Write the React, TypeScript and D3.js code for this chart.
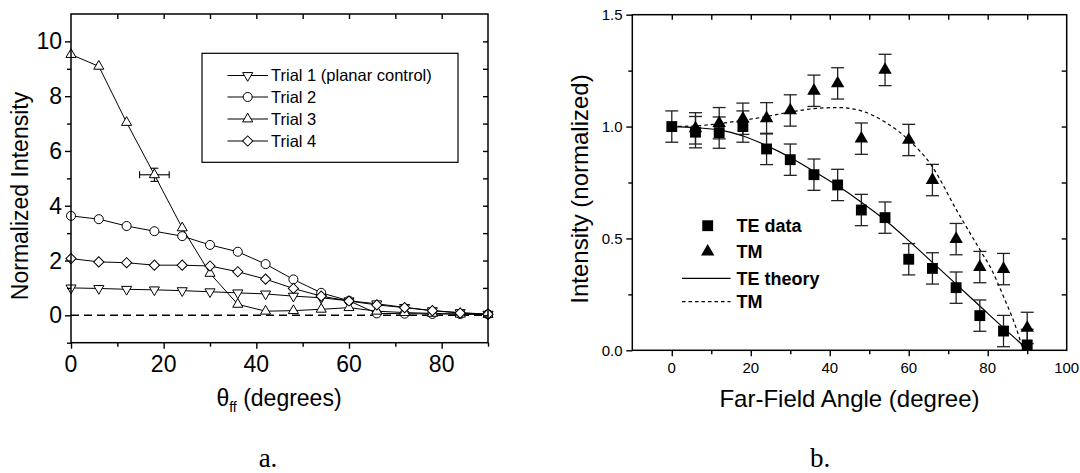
import React, { useEffect, useRef } from 'react';
import * as d3 from 'd3';

// ---- panel a: normalized intensity per trial ----
const angles = [0, 6, 12, 18, 24, 30, 36, 42, 48, 54, 60, 66, 72, 78, 84, 90];
const trial1 = [1.0, 0.98, 0.95, 0.93, 0.9, 0.86, 0.82, 0.78, 0.7, 0.64, 0.53, 0.42, 0.29, 0.17, 0.1, 0.04];
const trial2 = [3.63, 3.51, 3.26, 3.07, 2.89, 2.57, 2.32, 1.87, 1.31, 0.82, 0.53, 0.07, 0.06, 0.05, 0.05, 0.04];
const trial3 = [9.52, 9.09, 7.04, 5.13, 3.19, 1.53, 0.4, 0.15, 0.17, 0.22, 0.28, 0.15, 0.1, 0.07, 0.04, 0.03];
const trial4 = [2.07, 1.95, 1.92, 1.83, 1.83, 1.8, 1.59, 1.32, 0.98, 0.7, 0.52, 0.38, 0.28, 0.17, 0.08, 0.04];
const trialNames = ['Trial 1 (planar control)', 'Trial 2', 'Trial 3', 'Trial 4'];
// single error bar on trial 3
const errAngle = 18;
const errValue = 5.13;
const errAngleSpread = 3.2;
const errValueSpread = 0.24;

// ---- panel b: TE / TM data and theory ----
const teAngles = angles;
const teData = [1.0, 0.975, 0.973, 1.0, 0.9, 0.852, 0.785, 0.739, 0.627, 0.593, 0.407, 0.366, 0.28, 0.155, 0.086, 0.024];
const tmAngles = angles.slice(1);
const tmData = [0.992, 1.015, 1.035, 1.037, 1.072, 1.16, 1.193, 0.946, 1.253, 0.94, 0.761, 0.497, 0.372, 0.363, 0.1];
const dataErr = 0.07;
const teTheoryAngles = [0, 6, 12, 18, 24, 30, 36, 42, 48, 54, 60, 66, 72, 78, 84, 90];
const teTheory = [1.0, 0.995, 0.985, 0.958, 0.915, 0.862, 0.8, 0.735, 0.662, 0.582, 0.49, 0.393, 0.296, 0.198, 0.1, 0.005];
const tmTheoryAngles = [0, 6, 12, 18, 24, 30, 36, 42, 48, 54, 60, 66, 72, 78, 81, 84, 87, 89];
const tmTheory = [1.0, 1.003, 1.013, 1.028, 1.045, 1.065, 1.08, 1.085, 1.07, 1.02, 0.94, 0.82, 0.63, 0.45, 0.36, 0.24, 0.11, 0.0];
const legendB = ['TE data', 'TM', 'TE theory', 'TM'];

const FONT = '"Liberation Sans", Arial, Helvetica, sans-serif';
const SERIF = '"Liberation Serif", "Times New Roman", serif';

// scales
const xA = d3.scaleLinear().domain([0, 90]).range([71, 488]);
const yA = d3.scaleLinear().domain([-1, 11]).range([342.7, 14]);
const xB = d3.scaleLinear().domain([-10, 100]).range([632.3, 1066.7]);
const yB = d3.scaleLinear().domain([0, 1.5]).range([350.3, 14.7]);

const sym = (type: d3.SymbolType, size: number) => d3.symbol().type(type).size(size)() || '';
const circlePath = sym(d3.symbolCircle, 64);
const triPath = sym(d3.symbolTriangle, 44);
const diamondPath = sym(d3.symbolSquare, 52);
const squareBPath = sym(d3.symbolSquare, 118);
const triBPath = sym(d3.symbolTriangle, 78);

// marker per trial: path + rotation
const trialMarkers = [
  { d: triPath, rot: 180 },
  { d: circlePath, rot: 0 },
  { d: triPath, rot: 0 },
  { d: diamondPath, rot: 45 },
];
const trials = [trial1, trial2, trial3, trial4];

// tick marks drawn with d3 axes, labels drawn separately
const Ticks = ({ axis, transform }: { axis: any; transform: string }) => {
  const ref = useRef<SVGGElement>(null);
  useEffect(() => {
    const g = d3.select(ref.current);
    g.selectAll('*').remove();
    g.call(axis);
    g.select('.domain').remove();
    g.selectAll('text').remove();
    g.selectAll('line').attr('stroke', '#000').attr('stroke-width', 1.4);
  });
  return <g ref={ref} transform={transform} />;
};

const blank = () => '';

const PanelA = () => {
  const line = d3
    .line<number>()
    .x((d, i) => xA(angles[i]))
    .y(d => yA(d));
  const [x0, x1] = xA.range();
  const [yb, yt] = yA.range();
  const ex = xA(errAngle);
  const ey = yA(errValue);
  const exL = xA(errAngle - errAngleSpread);
  const exR = xA(errAngle + errAngleSpread);
  const eyT = yA(errValue + errValueSpread);
  const eyB = yA(errValue - errValueSpread);
  const legendY = [75.5, 97, 119, 141];

  return (
    <g fontFamily={FONT}>
      {/* zero reference */}
      <line x1={xA(0)} x2={xA(90)} y1={yA(0)} y2={yA(0)} stroke="#000" strokeWidth={1.6} strokeDasharray="8,5" />

      {trials.map((t, k) => (
        <path key={'l' + k} d={line(t) || ''} fill="none" stroke="#000" strokeWidth={1} />
      ))}

      {/* error bar on trial 3 */}
      <g stroke="#000" strokeWidth={1.1}>
        <line x1={exL} x2={exR} y1={ey} y2={ey} />
        <line x1={exL} x2={exL} y1={ey - 3.5} y2={ey + 3.5} />
        <line x1={exR} x2={exR} y1={ey - 3.5} y2={ey + 3.5} />
        <line x1={ex} x2={ex} y1={eyT} y2={eyB} />
        <line x1={ex - 4} x2={ex + 4} y1={eyT} y2={eyT} />
        <line x1={ex - 4} x2={ex + 4} y1={eyB} y2={eyB} />
      </g>

      {trials.map((t, k) =>
        t.map((v, i) => (
          <path
            key={`m${k}-${i}`}
            d={trialMarkers[k].d}
            transform={`translate(${xA(angles[i])},${yA(v)}) rotate(${trialMarkers[k].rot})`}
            fill="#fff"
            stroke="#000"
            strokeWidth={1}
          />
        ))
      )}

      {/* frame + ticks */}
      <rect x={x0} y={yt} width={x1 - x0} height={yb - yt} fill="none" stroke="#000" strokeWidth={1.5} />
      <Ticks axis={d3.axisBottom(xA).tickValues([0, 20, 40, 60, 80]).tickSize(6).tickFormat(blank)} transform={`translate(0,${yb})`} />
      <Ticks axis={d3.axisBottom(xA).tickValues([10, 30, 50, 70, 90]).tickSize(4).tickFormat(blank)} transform={`translate(0,${yb})`} />
      <Ticks axis={d3.axisTop(xA).tickValues([10, 20, 30, 40, 50, 60, 70, 80]).tickSize(-5).tickFormat(blank)} transform={`translate(0,${yt})`} />
      <Ticks axis={d3.axisLeft(yA).tickValues([0, 2, 4, 6, 8, 10]).tickSize(6).tickFormat(blank)} transform={`translate(${x0},0)`} />
      <Ticks axis={d3.axisLeft(yA).tickValues([-1, 1, 3, 5, 7, 9]).tickSize(4).tickFormat(blank)} transform={`translate(${x0},0)`} />
      <Ticks axis={d3.axisRight(yA).tickValues([0, 1, 2, 3, 4, 5, 6, 7, 8, 9, 10]).tickSize(-5).tickFormat(blank)} transform={`translate(${x1},0)`} />

      {[0, 20, 40, 60, 80].map(v => (
        <text key={'xa' + v} x={xA(v)} y={372} textAnchor="middle" fontSize={23}>{v}</text>
      ))}
      {[0, 2, 4, 6, 8, 10].map(v => (
        <text key={'ya' + v} x={62} y={yA(v)} dy="0.35em" textAnchor="end" fontSize={23}>{v}</text>
      ))}

      <text x={279} y={406} textAnchor="middle" fontSize={23}>
        θ<tspan fontSize={14} dy={6}>ff</tspan>
        <tspan dy={-6}>{' (degrees)'}</tspan>
      </text>
      <text transform="translate(28,196) rotate(-90)" textAnchor="middle" fontSize={23}>Normalized Intensity</text>

      {/* legend */}
      <rect x={202} y={53.3} width={256} height={109} fill="#fff" stroke="#000" strokeWidth={1.2} />
      {trialNames.map((name, k) => (
        <g key={'lg' + k}>
          <line x1={227.5} x2={268} y1={legendY[k]} y2={legendY[k]} stroke="#000" strokeWidth={1} />
          <path d={trialMarkers[k].d} transform={`translate(247.7,${legendY[k]}) rotate(${trialMarkers[k].rot})`} fill="#fff" stroke="#000" strokeWidth={1} />
          <text x={271} y={legendY[k]} dy="0.35em" fontSize={16.5}>{name}</text>
        </g>
      ))}

      <text x={268} y={467} textAnchor="middle" fontSize={27} fontFamily={SERIF}>a.</text>
    </g>
  );
};

const PanelB = () => {
  const teLine = d3
    .line<number>()
    .x((d, i) => xB(teTheoryAngles[i]))
    .y(d => yB(d))
    .curve(d3.curveMonotoneX);
  const tmLine = d3
    .line<number>()
    .x((d, i) => xB(tmTheoryAngles[i]))
    .y(d => yB(d))
    .curve(d3.curveMonotoneX);
  const [x0, x1] = xB.range();
  const [yb, yt] = yB.range();
  const legendY = [225.7, 251.7, 278.3, 301.7];

  const errBar = (x: number, v: number, key: string) => (
    <g key={key} stroke="#222" strokeWidth={1.3}>
      <line x1={xB(x)} x2={xB(x)} y1={yB(v + dataErr)} y2={yB(Math.max(0, v - dataErr))} />
      <line x1={xB(x) - 6.5} x2={xB(x) + 6.5} y1={yB(v + dataErr)} y2={yB(v + dataErr)} />
      {v - dataErr > 0 && (
        <line x1={xB(x) - 6.5} x2={xB(x) + 6.5} y1={yB(v - dataErr)} y2={yB(v - dataErr)} />
      )}
    </g>
  );

  return (
    <g fontFamily={FONT}>
      <path d={teLine(teTheory) || ''} fill="none" stroke="#000" strokeWidth={1.2} />
      <path d={tmLine(tmTheory) || ''} fill="none" stroke="#000" strokeWidth={1.2} strokeDasharray="3.5,3" />

      {teData.map((v, i) => errBar(teAngles[i], v, 'te' + i))}
      {tmData.map((v, i) => errBar(tmAngles[i], v, 'tm' + i))}

      {teData.map((v, i) => (
        <path key={'sq' + i} d={squareBPath} transform={`translate(${xB(teAngles[i])},${yB(v)})`} fill="#000" />
      ))}
      {tmData.map((v, i) => (
        <path key={'tr' + i} d={triBPath} transform={`translate(${xB(tmAngles[i])},${yB(v)})`} fill="#000" />
      ))}

      {/* frame + ticks */}
      <rect x={x0} y={yt} width={x1 - x0} height={yb - yt} fill="none" stroke="#000" strokeWidth={1.5} />
      <Ticks axis={d3.axisBottom(xB).tickValues([0, 20, 40, 60, 80]).tickSize(6).tickFormat(blank)} transform={`translate(0,${yb})`} />
      <Ticks axis={d3.axisBottom(xB).tickValues([10, 30, 50, 70, 90]).tickSize(4).tickFormat(blank)} transform={`translate(0,${yb})`} />
      <Ticks axis={d3.axisTop(xB).tickValues([0, 10, 20, 30, 40, 50, 60, 70, 80, 90]).tickSize(-5).tickFormat(blank)} transform={`translate(0,${yt})`} />
      <Ticks axis={d3.axisLeft(yB).tickValues([0, 0.5, 1.0, 1.5]).tickSize(6).tickFormat(blank)} transform={`translate(${x0},0)`} />
      <Ticks axis={d3.axisLeft(yB).tickValues([0.25, 0.75, 1.25]).tickSize(4).tickFormat(blank)} transform={`translate(${x0},0)`} />
      <Ticks axis={d3.axisRight(yB).tickValues([0.25, 0.5, 0.75, 1.0, 1.25]).tickSize(-5).tickFormat(blank)} transform={`translate(${x1},0)`} />

      {[0, 20, 40, 60, 80, 100].map(v => (
        <text key={'xb' + v} x={xB(v)} y={373} textAnchor="middle" fontSize={15}>{v}</text>
      ))}
      {[0, 0.5, 1.0, 1.5].map(v => (
        <text key={'yb' + v} x={622.5} y={yB(v)} dy="0.35em" textAnchor="end" fontSize={15}>{d3.format('.1f')(v)}</text>
      ))}

      <text x={(x0 + x1) / 2} y={406.5} textAnchor="middle" fontSize={24}>Far-Field Angle (degree)</text>
      <text transform="translate(588,189) rotate(-90)" textAnchor="middle" fontSize={24}>Intensity (normalized)</text>

      {/* legend */}
      <path d={squareBPath} transform={`translate(707.7,${legendY[0]})`} fill="#000" />
      <path d={triBPath} transform={`translate(707.7,${legendY[1]})`} fill="#000" />
      <line x1={682} x2={730.5} y1={legendY[2]} y2={legendY[2]} stroke="#000" strokeWidth={1.2} />
      <line x1={682} x2={730.5} y1={legendY[3]} y2={legendY[3]} stroke="#000" strokeWidth={1.2} strokeDasharray="3.5,3" />
      {legendB.map((name, k) => (
        <text key={'lb' + k} x={736.5} y={legendY[k]} dy="0.35em" fontSize={18} fontWeight="bold">{name}</text>
      ))}

      <text x={820} y={467} textAnchor="middle" fontSize={27} fontFamily={SERIF}>b.</text>
    </g>
  );
};

const App = () => (
  <svg width={1080} height={473} style={{ position: 'absolute', left: 0, top: 0, background: '#fff' }}>
    <rect width={1080} height={473} fill="#fff" />
    <PanelA />
    <PanelB />
  </svg>
);

export default App;
